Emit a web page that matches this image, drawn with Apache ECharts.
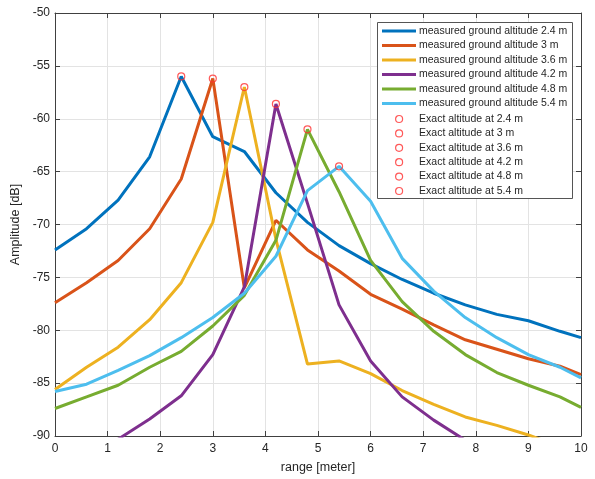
<!DOCTYPE html>
<html><head><meta charset="utf-8">
<script src="https://cdn.jsdelivr.net/npm/echarts@6/dist/echarts.min.js"></script>
<style>html,body{margin:0;padding:0;background:#fff}#c{width:595px;height:479px}</style>
</head><body><div id="c"></div>
<script>
const xs = [0,0.6,1.2,1.8,2.4,3.0,3.6,4.2,4.8,5.4,6.0,6.6,7.2,7.8,8.4,9.0,9.6,10];
const alt24 = [-72.4,-70.4,-67.7,-63.6,-56.0,-61.7,-63.1,-67.0,-69.8,-72.0,-73.7,-75.2,-76.5,-77.6,-78.5,-79.1,-80.1,-80.7];
const alt30 = [-77.4,-75.5,-73.4,-70.4,-65.7,-56.2,-76.0,-69.6,-72.4,-74.4,-76.6,-78.0,-79.5,-80.9,-81.8,-82.7,-83.4,-84.2];
const alt36 = [-85.6,-83.5,-81.6,-79.0,-75.5,-69.8,-57.0,-71.4,-83.2,-82.9,-84.1,-85.7,-87.0,-88.2,-89.0,-89.9,-91.0,-91.6];
const alt42 = [-93.5,-91.8,-90.3,-88.4,-86.2,-82.3,-75.9,-58.6,-68.0,-77.6,-82.9,-86.3,-88.5,-90.4,-92.0,-93.2,-94.3,-95.0];
const alt48 = [-87.4,-86.3,-85.2,-83.5,-82.0,-79.6,-76.7,-71.5,-61.0,-66.9,-73.4,-77.3,-80.1,-82.3,-84.0,-85.2,-86.3,-87.3];
const alt54 = [-85.8,-85.1,-83.8,-82.4,-80.7,-78.8,-76.5,-73.0,-66.8,-64.5,-67.8,-73.2,-76.3,-78.8,-80.7,-82.3,-83.5,-84.5];
const peakX = [2.4,3.0,3.6,4.2,4.8,5.4];
const peakY = [-56.0,-56.2,-57.0,-58.6,-61.0,-64.5];
const heights = ['2.4','3','3.6','4.2','4.8','5.4'];
const lineNames = heights.map(h => 'measured ground altitude ' + h + ' m');
const markNames = heights.map(h => 'Exact altitude at ' + h + ' m');
const colors = ['#0072BD','#D95319','#EDB120','#7E2F8E','#77AC30','#4DBEEE'];
const lineData = [alt24, alt30, alt36, alt42, alt48, alt54];

const FONT = 'Liberation Sans, Arial, sans-serif';
const TXT = '#262626';
const AX = '#404040';

const series = [];
lineData.forEach((arr, i) => {
  series.push({
    name: lineNames[i], type: 'line', showSymbol: false, symbol: 'none',
    data: xs.map((x, j) => [x, arr[j]]),
    lineStyle: {color: colors[i], width: 3}, itemStyle: {color: colors[i]},
    clip: true, animation: false, z: 2 + i
  });
});
peakX.forEach((x, i) => {
  series.push({
    name: markNames[i], type: 'scatter', symbol: 'circle', symbolSize: 7,
    data: [[x, peakY[i]]],
    itemStyle: {color: 'rgba(0,0,0,0)', borderColor: '#ff3030', borderWidth: 1.2},
    animation: false, z: 20
  });
});

const axisCommon = {
  axisLine: {show: true, onZero: false, lineStyle: {color: AX, width: 1}},
  axisTick: {show: true, inside: true, length: 5, lineStyle: {color: AX}},
};

const chart = echarts.init(document.getElementById('c'), null, {renderer: 'canvas'});
chart.setOption({
  animation: false,
  backgroundColor: '#fff',
  grid: {left: 55, right: 14, top: 13, bottom: 40, containLabel: false},
  xAxis: [
    Object.assign({
      type: 'value', min: 0, max: 10, interval: 1, position: 'bottom',
      name: 'range [meter]', nameLocation: 'middle', nameGap: 25,
      nameTextStyle: {color: TXT, fontSize: 12.5, fontFamily: FONT},
      axisLabel: {color: TXT, fontSize: 12, fontFamily: FONT, margin: 7},
      splitLine: {show: true, lineStyle: {color: '#e3e3e3', width: 1}}
    }, axisCommon),
    Object.assign({
      type: 'value', min: 0, max: 10, interval: 1, position: 'top',
      axisLabel: {show: false}, splitLine: {show: false}
    }, axisCommon)
  ],
  yAxis: [
    Object.assign({
      type: 'value', min: -90, max: -50, interval: 5, position: 'left',
      name: 'Amplitude [dB]', nameLocation: 'middle', nameGap: 25, nameRotate: 90,
      nameTextStyle: {color: TXT, fontSize: 12.5, fontFamily: FONT},
      axisLabel: {color: TXT, fontSize: 12, fontFamily: FONT, margin: 5},
      splitLine: {show: true, lineStyle: {color: '#e3e3e3', width: 1}}
    }, axisCommon),
    Object.assign({
      type: 'value', min: -90, max: -50, interval: 5, position: 'right',
      axisLabel: {show: false}, splitLine: {show: false}
    }, axisCommon)
  ],
  graphic: [{
    type: 'rect', z: 100, silent: true,
    shape: {x: 377.5, y: 22.5, width: 195, height: 176},
    style: {fill: '#ffffff', stroke: '#555555', lineWidth: 1}
  }],
  legend: [
    {
      left: 382, top: 25, orient: 'vertical', itemWidth: 34, itemHeight: 3, itemGap: 2.5,
      z: 110, selectedMode: false, padding: 0,
      textStyle: {color: TXT, fontSize: 10.5, fontFamily: FONT, lineHeight: 12, padding: [0, 0, 0, -2]},
      data: lineNames.map((n, i) => ({name: n, icon: 'rect', itemStyle: {color: colors[i]}}))
    },
    {
      left: 395, top: 113, orient: 'vertical', itemWidth: 34, itemHeight: 7, itemGap: 2.4,
      z: 110, selectedMode: false, padding: 0,
      textStyle: {color: TXT, fontSize: 10.5, fontFamily: FONT, lineHeight: 12, padding: [0, 0, 0, -2]},
      data: markNames.map(n => ({name: n, icon: 'circle', itemStyle: {color: 'rgba(0,0,0,0)', borderColor: '#ff3030', borderWidth: 1.2}}))
    }
  ],
  series: series
});
</script></body></html>
